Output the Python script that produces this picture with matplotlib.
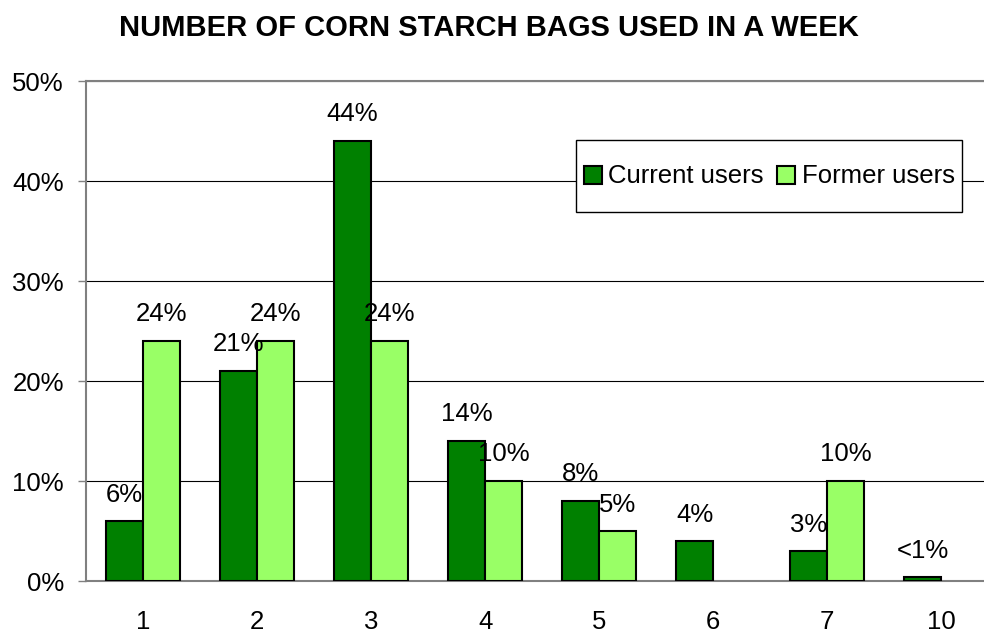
import numpy as np
import matplotlib
matplotlib.use('Agg')
from matplotlib import pyplot as plt
from matplotlib.patches import Rectangle
from matplotlib.container import BarContainer
from matplotlib.legend_handler import HandlerPatch

# 데이터
categories = ['1', '2', '3', '4', '5', '6', '7', '10']
current_users = [6, 21, 44, 14, 8, 4, 3, 0.4]
former_users = [24, 24, 24, 10, 5, 0, 10, 0]
current_labels = ['6%', '21%', '44%', '14%', '8%', '4%', '3%', '<1%']
former_labels = ['24%', '24%', '24%', '10%', '5%', '', '10%', '']

plt.rcParams['font.family'] = ['Liberation Sans', 'DejaVu Sans']
FS = 18.5

fig = plt.figure(figsize=(9.84, 6.33), dpi=100)
ax = fig.add_axes([0.0874, 0.082, 0.927, 0.79])

x = np.arange(len(categories))
w = 0.325
b1 = ax.bar(x - w / 2, current_users, w, color='#008000', edgecolor='black',
            linewidth=1.5, label='Current users', zorder=3)
b2 = ax.bar(x + w / 2, former_users, w, color='#99FF66', edgecolor='black',
            linewidth=1.5, label='Former users', zorder=3)
# 값이 0인 막대는 테두리도 그리지 않는다
for rect, v in zip(b2, former_users):
    if v == 0:
        rect.set_visible(False)

# 막대 위 값 표시
for rect, lab in zip(b1, current_labels):
    ax.annotate(lab, (rect.get_x() + rect.get_width() / 2, rect.get_height()),
                xytext=(0, 10.5), textcoords='offset points',
                ha='center', va='bottom', fontsize=FS)
for rect, lab in zip(b2, former_labels):
    if lab:
        ax.annotate(lab, (rect.get_x() + rect.get_width() / 2, rect.get_height()),
                    xytext=(0, 10.5), textcoords='offset points',
                    ha='center', va='bottom', fontsize=FS)

ax.set_xlim(-0.5, len(categories) - 0.5)
ax.set_ylim(0, 50)
ax.set_yticks(range(0, 51, 10))
ax.set_yticklabels([f'{v}%' for v in range(0, 51, 10)], fontsize=FS)
ax.set_xticks(x)
ax.set_xticklabels(categories, fontsize=FS)
ax.tick_params(axis='x', length=0, pad=21)
ax.tick_params(axis='y', length=6, width=1, color='#808080', pad=10)

ax.grid(axis='y', color='black', linewidth=0.8, zorder=0)
ax.set_axisbelow(True)
for s in ['left', 'bottom', 'top']:
    ax.spines[s].set_color('#808080')
    ax.spines[s].set_linewidth(1.5)
ax.spines['right'].set_visible(False)


# 범례 상자 안의 작은 정사각형 표시
def square(legend, orig_handle, xdescent, ydescent, width, height, fontsize):
    s = width
    return Rectangle((-xdescent, -ydescent + (height - s) / 2 + 1), s, s)


def first_child(legend_handle, orig_handle):
    legend_handle.update_from(orig_handle.patches[0])


leg = ax.legend(loc='upper left', bbox_to_anchor=(0.537, 0.882), ncol=2,
                fontsize=FS, frameon=True, fancybox=False, framealpha=1,
                edgecolor='black', handlelength=0.7, handleheight=3.0,
                handletextpad=0.27, columnspacing=0.5, borderpad=0.3,
                borderaxespad=0,
                handler_map={BarContainer: HandlerPatch(patch_func=square,
                                                        update_func=first_child)})
leg.get_frame().set_linewidth(1)

fig.suptitle('NUMBER OF CORN STARCH BAGS USED IN A WEEK', fontsize=21,
             fontweight='bold', x=0.497, y=0.978)

fig.savefig('out.png', dpi=100)
